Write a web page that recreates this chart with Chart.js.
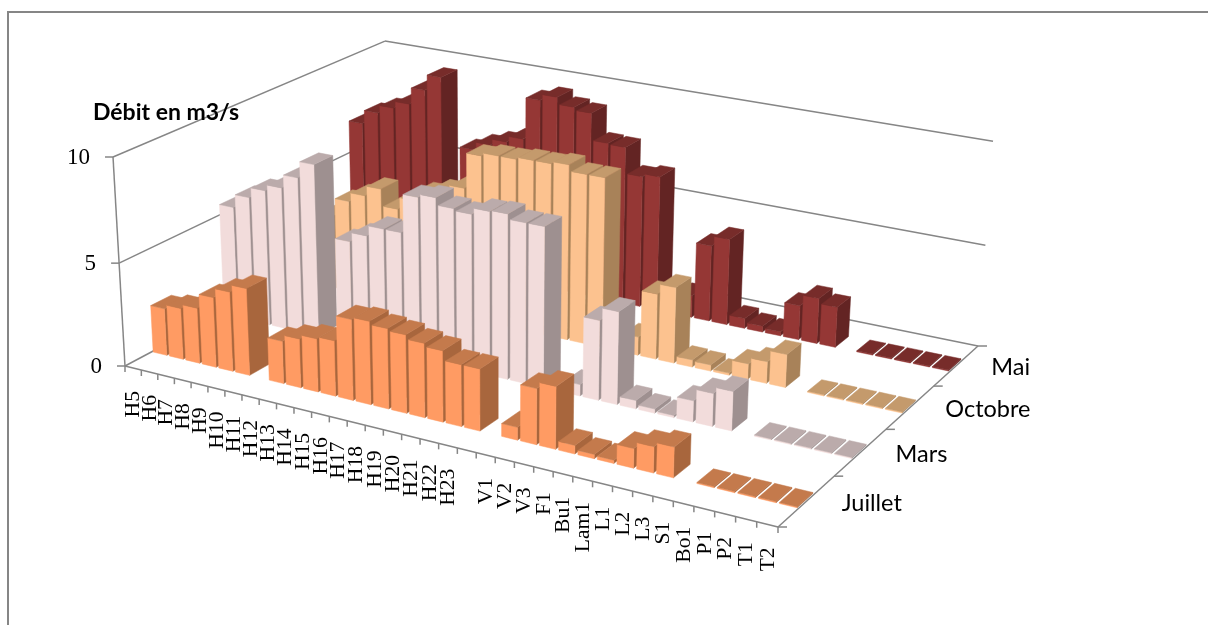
<!DOCTYPE html>
<html>
<head>
<meta charset="utf-8">
<title>Débit en m3/s</title>
<script src="https://cdn.jsdelivr.net/npm/chart.js@4"></script>
<style>
    html, body { margin: 0; padding: 0; background: #fff; overflow: hidden; }
    #wrap { position: relative; width: 1208px; height: 625px; }
    #frame { position: absolute; left: 7px; top: 11px; right: -4px; bottom: -4px; border: 2px solid #868686; }
    canvas { position: absolute; left: 0; top: 0; }
</style>
</head>
<body>
<div id="wrap">
    <div id="frame"></div>
    <canvas id="chart" width="1208" height="625"></canvas>
</div>
<script>
const categories = ['H5', 'H6', 'H7', 'H8', 'H9', 'H10', 'H11', 'H12', 'H13', 'H14', 'H15', 'H16', 'H17', 'H18', 'H19', 'H20', 'H21', 'H22', 'H23', '',
    'V1', 'V2', 'V3', 'F1', 'Bu1', 'Lam1', 'L1', 'L2', 'L3', 'S1', 'Bo1', 'P1', 'P2', 'T1', 'T2'];
const seriesNames = ['Juillet', 'Mars', 'Octobre', 'Mai'];

const juillet = [2.3, 2.5, 2.7, 3.4, 3.85, 4.2, null, 2.05, 2.35, 2.55, 2.65, 3.85, 3.95, 3.8, 3.7, 3.5, 3.35, 2.9, 2.9, null,
    0.6, 2.6, 2.9, 0.4, 0.2, 0.15, 0.9, 1.2, 1.4, null, 0.05, 0.05, 0.05, 0.05, 0.05];
const mars = [5.55, 6.2, 6.7, 7.0, 7.65, 8.45, null, 5.05, 5.5, 6.0, 6.0, 7.85, 8.0, 7.65, 7.55, 7.85, 7.9, 7.65, 7.65, null,
    0.55, 3.8, 4.4, 0.4, 0.2, 0.1, 1.0, 1.55, 1.85, null, 0.05, 0.05, 0.05, 0.05, 0.05];
const octobre = [3.4, 3.6, 3.8, 4.7, 5.15, 5.65, 4.8, 5.4, 5.9, 6.2, 6.5, 8.25, 8.4, 8.4, 8.5, 8.5, 8.6, 8.3, 8.3, null,
    0.9, 3.2, 3.7, 0.35, 0.3, 0.1, 0.75, 1.05, 1.6, null, 0.05, 0.05, 0.05, 0.05, 0.05];
const mai = [6.7, 7.4, 7.8, 8.15, 9.0, 9.8, null, 6.4, 6.8, 7.1, 7.4, 9.5, 9.8, 9.45, 9.3, 7.95, 7.9, 6.6, 6.75, null,
    1.1, 3.8, 4.3, 0.5, 0.3, 0.2, 1.7, 2.25, 2.0, null, 0.05, 0.05, 0.05, 0.05, 0.05];
const seriesValues = [juillet, mars, octobre, mai];

// front, top and side shades of each series
const faceColors = [
    ['#FF9B63', '#C47A4C', '#A8663D'],
    ['#F2DCDB', '#BBABAB', '#9E9090'],
    ['#FCC28F', '#C49A6C', '#A88259'],
    ['#953735', '#772C2A', '#632423']
];

// Camera: floor corners on screen plus the vanishing point of the vertical edges.
const floorA = [125, 366], floorB = [778, 527], floorC = [978, 346], floorD = [388, 226];
const vanish = [499, 6886];
const heightGain = -0.03106;
const barDepth = 0.28;
const axisColor = '#868686';

function floorMatrix() {
    const dx1 = floorB[0] - floorC[0], dx2 = floorD[0] - floorC[0], sx = floorA[0] - floorB[0] + floorC[0] - floorD[0];
    const dy1 = floorB[1] - floorC[1], dy2 = floorD[1] - floorC[1], sy = floorA[1] - floorB[1] + floorC[1] - floorD[1];
    const den = dx1 * dy2 - dx2 * dy1;
    const g = (sx * dy2 - dx2 * sy) / den;
    const h = (dx1 * sy - sx * dy1) / den;
    return {
        a: floorB[0] - floorA[0] + g * floorB[0], b: floorD[0] - floorA[0] + h * floorD[0], c: floorA[0],
        d: floorB[1] - floorA[1] + g * floorB[1], e: floorD[1] - floorA[1] + h * floorD[1], f: floorA[1],
        g: g, h: h
    };
}
const M = floorMatrix();

// u along the categories, v along the series, t up the value axis, all 0..1
function project(u, v, t) {
    const k = heightGain * t;
    const w = M.g * u + M.h * v + 1 + k;
    return [
        (M.a * u + M.b * v + M.c + k * vanish[0]) / w,
        (M.d * u + M.e * v + M.f + k * vanish[1]) / w
    ];
}

function quad(ctx, pts, color) {
    ctx.beginPath();
    ctx.moveTo(pts[0][0], pts[0][1]);
    for (let i = 1; i < pts.length; i++) ctx.lineTo(pts[i][0], pts[i][1]);
    ctx.closePath();
    ctx.fillStyle = color;
    ctx.fill();
    ctx.strokeStyle = color;
    ctx.lineWidth = 0.5;
    ctx.stroke();
}

function line(ctx, p, q) {
    ctx.beginPath();
    ctx.moveTo(p[0], p[1]);
    ctx.lineTo(q[0], q[1]);
    ctx.stroke();
}

function drawWalls(chart) {
    const ctx = chart.ctx;
    const yScale = chart.scales.y;
    ctx.save();
    ctx.strokeStyle = axisColor;
    ctx.lineWidth = 1.5;
    yScale.ticks.forEach(function (tick) {
        const t = (yScale.bottom - yScale.getPixelForValue(tick.value)) / yScale.height;
        line(ctx, project(0, 0, t), project(0, 1, t));
        line(ctx, project(0, 1, t), project(1, 1, t));
        const p = project(0, 0, t);
        line(ctx, [p[0] - 8, p[1]], p);
        ctx.fillStyle = '#000';
        ctx.font = '23px "Liberation Serif"';
        ctx.textAlign = 'right';
        ctx.textBaseline = 'middle';
        ctx.fillText(tick.label, p[0] - 23, p[1] + 1);
    });
    line(ctx, project(0, 0, 0), project(0, 0, 1));
    ctx.restore();
}

function drawFloorAxes(chart) {
    const ctx = chart.ctx;
    const xScale = chart.scales.x;
    const zScale = chart.scales.z;
    const labels = xScale.getLabels();
    ctx.save();
    ctx.strokeStyle = axisColor;
    ctx.lineWidth = 1.5;
    line(ctx, project(0, 0, 0), project(1, 0, 0));
    line(ctx, project(1, 0, 0), project(1, 1, 0));

    for (let i = 0; i <= labels.length; i++) {
        const p = project(i / labels.length, 0, 0);
        line(ctx, p, [p[0], p[1] + 6]);
    }
    const rows = zScale.getLabels();
    for (let i = 0; i <= rows.length; i++) {
        const p = project(1, i / rows.length, 0);
        line(ctx, p, [p[0] + 9, p[1]]);
    }

    ctx.fillStyle = '#000';
    labels.forEach(function (label, i) {
        const u = (xScale.getPixelForValue(i) - xScale.left) / xScale.width;
        const p = project(u, 0, 0);
        ctx.save();
        ctx.translate(p[0] + 1, p[1] + 23);
        ctx.rotate(-Math.PI / 2);
        ctx.scale(1.08, 1);
        ctx.font = '20px "Liberation Serif"';
        ctx.textAlign = 'right';
        ctx.textBaseline = 'middle';
        ctx.fillText(label, 0, 0);
        ctx.restore();
    });

    rows.forEach(function (label, i) {
        const v = (zScale.getPixelForValue(i) - zScale.left) / zScale.width;
        const p = project(1, v, 0);
        ctx.font = '23.5px Lato';
        ctx.textAlign = 'left';
        ctx.textBaseline = 'middle';
        ctx.fillText(label, p[0] + 35, p[1] + 2);
    });

    ctx.font = 'bold 23px Lato';
    ctx.textAlign = 'left';
    ctx.textBaseline = 'alphabetic';
    ctx.fillText('Débit en m3/s', 93, 120);
    ctx.restore();
}

const bar3d = {
    id: 'bar3d',
    beforeDatasetsDraw: function (chart) {
        drawWalls(chart);
        drawFloorAxes(chart);
    },
    // replaces the flat rectangle of each bar element with a projected box
    beforeDatasetDraw: function (chart, args) {
        const ctx = chart.ctx;
        const xScale = chart.scales.x;
        const yScale = chart.scales.y;
        const zScale = chart.scales.z;
        const colors = faceColors[args.index];
        const rowSize = 1 / zScale.getLabels().length;
        const vMid = (zScale.getPixelForValue(args.index) - zScale.left) / zScale.width;
        const v0 = vMid - rowSize * barDepth / 2;
        const v1 = vMid + rowSize * barDepth / 2;

        args.meta.data.forEach(function (bar, i) {
            if (args.meta._parsed[i].y === null) return;
            const props = bar.getProps(['x', 'y', 'width'], true);
            const u0 = (props.x - props.width / 2 - xScale.left) / xScale.width;
            const u1 = (props.x + props.width / 2 - xScale.left) / xScale.width;
            const t = (yScale.bottom - props.y) / yScale.height;

            quad(ctx, [project(u1, v0, 0), project(u1, v1, 0), project(u1, v1, t), project(u1, v0, t)], colors[2]);
            quad(ctx, [project(u0, v0, 0), project(u1, v0, 0), project(u1, v0, t), project(u0, v0, t)], colors[0]);
            quad(ctx, [project(u0, v0, t), project(u1, v0, t), project(u1, v1, t), project(u0, v1, t)], colors[1]);
        });
        return false;
    }
};

new Chart(document.getElementById('chart'), {
    type: 'bar',
    data: {
        labels: categories,
        datasets: seriesNames.map(function (name, i) {
            return { label: name, data: seriesValues[i], backgroundColor: faceColors[i][0] };
        })
    },
    options: {
        responsive: false,
        animation: false,
        grouped: false,
        barPercentage: 0.84,
        categoryPercentage: 1,
        layout: { padding: 0 },
        plugins: { legend: { display: false }, tooltip: { enabled: false } },
        scales: {
            x: { display: false, type: 'category', offset: true },
            y: { display: false, type: 'linear', min: 0, max: 10, ticks: { stepSize: 5 } },
            z: { display: false, type: 'category', axis: 'x', position: 'bottom', offset: true, labels: seriesNames }
        }
    },
    plugins: [bar3d]
});
</script>
</body>
</html>
